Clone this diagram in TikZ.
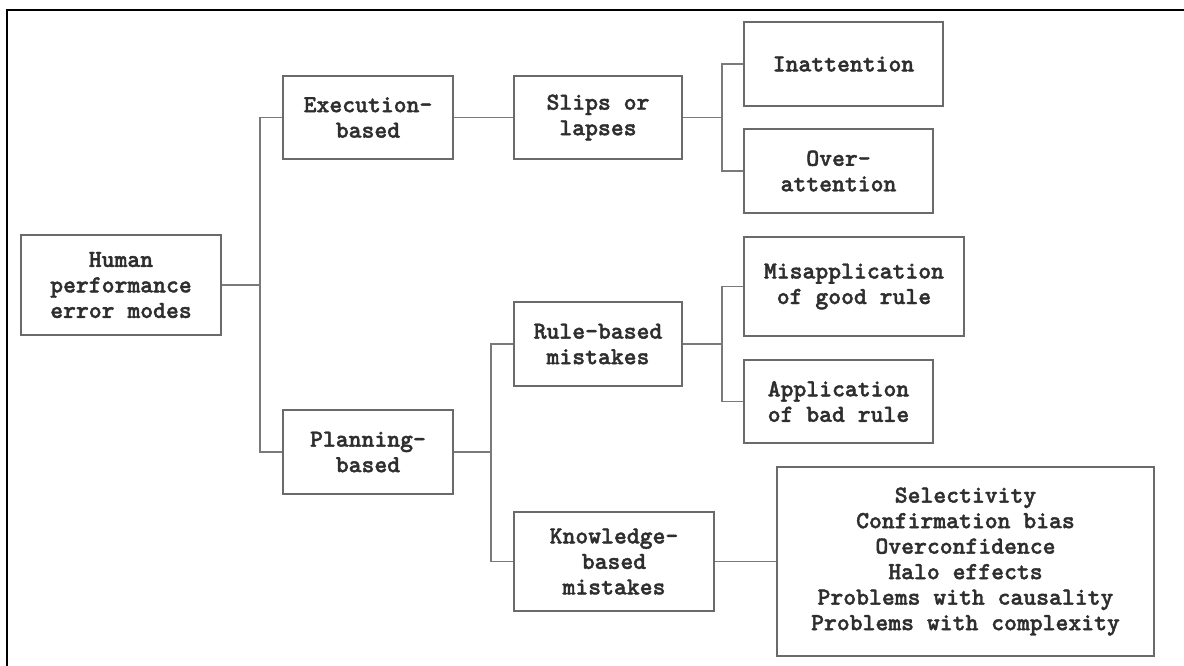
\documentclass[tikz,border=0pt]{standalone}
\usepackage{fontspec}
\newfontfamily\boxfont{lmmonolt10-bold.otf}[FakeBold=1.6]
\definecolor{inkgray}{HTML}{2E2E2E}
\definecolor{edgegray}{HTML}{6A6A6A}
\definecolor{linkgray}{HTML}{7A7A7A}
\begin{document}
\begin{tikzpicture}[x=1pt,y=-1pt,
  box/.style={draw=edgegray, line width=1.4pt, inner sep=0pt, align=center,
    text=inkgray, font=\boxfont\fontsize{24.5}{25.5}\selectfont},
  link/.style={draw=linkgray, line width=1.4pt}]
\useasboundingbox (0,0) rectangle (1184,666);
% frame
\draw[line width=2pt, black] (7,666) -- (7,10) -- (1184,10);

% boxes: centre, width, height
\node[box, minimum width=200pt, minimum height=100pt] (human) at (121,285) {Human\\performance\\error modes};
\node[box, minimum width=170pt, minimum height=83pt] (exec) at (368,117.5) {Execution-\\based};
\node[box, minimum width=170pt, minimum height=84pt] (plan) at (368,452) {Planning-\\based};
\node[box, minimum width=168pt, minimum height=83pt] (slips) at (598,117.5) {Slips or\\lapses};
\node[box, minimum width=199pt, minimum height=84pt] (inatt) at (843.5,64) {Inattention};
\node[box, minimum width=189pt, minimum height=84pt] (over) at (838.5,171) {Over-\\attention};
\node[box, minimum width=168pt, minimum height=84pt] (rule) at (598,344) {Rule-based\\mistakes};
\node[box, minimum width=220pt, minimum height=99pt] (misapp) at (854,286.5) {Misapplication\\of good rule};
\node[box, minimum width=189pt, minimum height=83pt] (app) at (838.5,401.5) {Application\\of bad rule};
\node[box, minimum width=200pt, minimum height=99pt] (know) at (614,561.5) {Knowledge-\\based\\mistakes};
\node[box, minimum width=377pt, minimum height=189pt] (list) at (965.5,561.5)
  {Selectivity\\Confirmation bias\\Overconfidence\\Halo effects\\Problems with causality\\Problems with complexity};

% branch points
\coordinate (j1) at (260,285);
\coordinate (j2) at (722,117.5);
\coordinate (j3) at (491,452);
\coordinate (j4) at (722,344);

% connectors
\draw[link] (human.east) -- (j1);
\draw[link] (exec.west) -| (j1);
\draw[link] (plan.west) -| (j1);
\draw[link] (exec.east) -- (slips.west);
\draw[link] (slips.east) -- (j2);
\draw[link] (inatt.west) -| (j2);
\draw[link] (over.west) -| (j2);
\draw[link] (plan.east) -- (j3);
\draw[link] (rule.west) -| (j3);
\draw[link] (know.west) -| (j3);
\draw[link] (rule.east) -- (j4);
\draw[link] (misapp.west) -| (j4);
\draw[link] (app.west) -| (j4);
\draw[link] (know.east) -- (list.west);
\end{tikzpicture}
\end{document}
